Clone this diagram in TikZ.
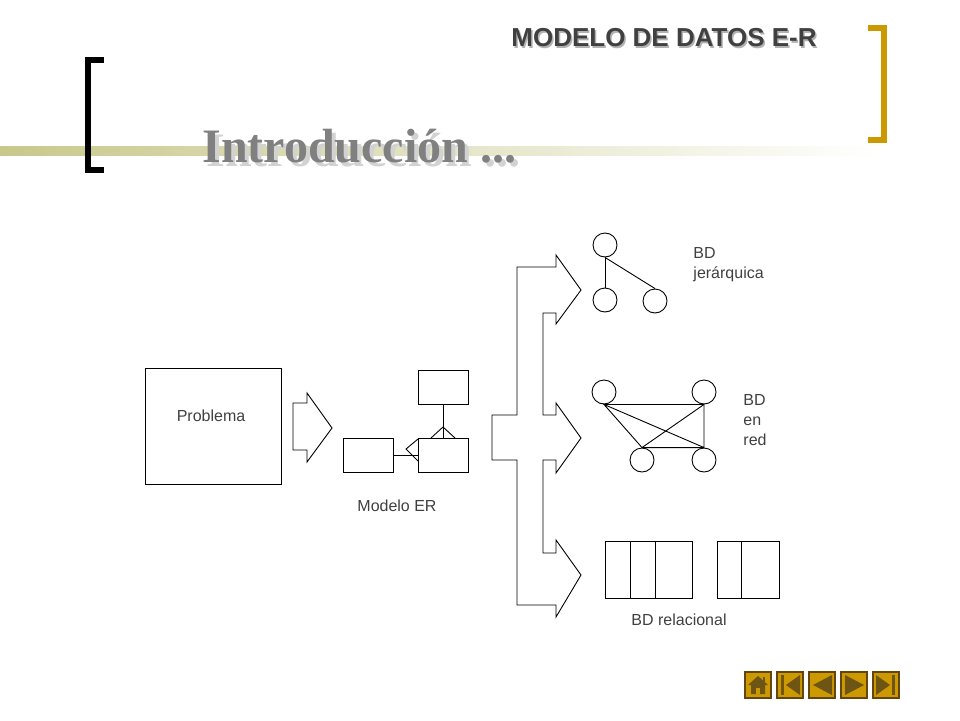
\documentclass[tikz,border=0pt]{standalone}
\usepackage{fontspec}
\setmainfont{Liberation Sans}
\newfontfamily\serifbold{Liberation Serif}
\usetikzlibrary{positioning}
\definecolor{gold}{RGB}{204,153,0}
\definecolor{navedge}{RGB}{100,70,10}
\definecolor{navicon}{RGB}{110,85,20}
\definecolor{khaki}{RGB}{200,200,140}
\definecolor{lbl}{RGB}{64,64,64}

\begin{document}
\begin{tikzpicture}[x=1pt,y=-1pt,line width=0.9pt]
\tikzset{
  lbl/.style={font=\fontsize{16}{20}\selectfont,text=lbl,align=left,inner sep=0pt},
  ent/.style={draw,minimum width=50pt,minimum height=34pt,inner sep=0pt},
  rec/.style={draw,circle,minimum size=24pt,inner sep=0pt},
  navbtn/.style={draw=navedge,fill=gold,line width=1.5pt,minimum size=26pt,inner sep=0pt}
}
\useasboundingbox (0,0) rectangle (960,720);
% header
\shade[left color=khaki,right color=white] (0,146) rectangle (880,155);
\draw[line width=6pt] (104,60) -- (88,60) -- (88,170) -- (104,170);
\draw[gold,line width=6pt] (868,28) -- (884,28) -- (884,140) -- (868,140);
\node[text=gray!60,font=\bfseries\fontsize{26}{28}\selectfont] at (665.5,39.5) {MODELO DE DATOS E-R};
\node (title) [text=black!75,font=\bfseries\fontsize{26}{28}\selectfont] at (664,38) {MODELO DE DATOS E-R};
\node[text=gray!35,font=\serifbold\bfseries\fontsize{48}{50}\selectfont,anchor=west,inner sep=0pt] at (206,150) {Introducción ...};
\node (intro) [text=black!50,font=\serifbold\bfseries\fontsize{48}{50}\selectfont,anchor=west,inner sep=0pt] at (202,146) {Introducción ...};
% problem
\node (prob) [draw,minimum width=136pt,minimum height=116pt,inner sep=0pt] at (213,426) {};
\node (probtxt) [lbl] at (211,416) {Problema};
\draw (293,403) -- (307,403) -- (307,393) -- (332,428) -- (307,462) -- (307,450) -- (293,450) -- cycle;
% ER model
\node (e1) [ent] at (368,455) {};
\node (e2) [ent] at (443,455) {};
\node (e3) [ent] at (443,387) {};
\draw (e3.south) -- (e2.north);
\draw (431,438) -- (443,427) -- (455,438);
\draw (e1.east) -- (e2.west);
\draw (418,439) -- (406,449) -- (418,461);
\node (ertxt) [lbl] at (397,506) {Modelo ER};
% branching arrow
\draw (492,415) -- (517,415) -- (517,267) -- (556,267) -- (556,255) -- (581,290) -- (556,324)
  -- (556,313) -- (543,313) -- (543,415) -- (556,415) -- (556,403) -- (581,438) -- (556,473)
  -- (556,460) -- (543,460) -- (543,553) -- (556,553) -- (556,540) -- (581,575) -- (556,617)
  -- (556,605) -- (517,605) -- (517,460) -- (492,460) -- cycle;
% hierarchical
\node (h0) [rec] at (605,245) {};
\node (h1) [rec] at (605,300) {};
\node (h2) [rec] at (655,301) {};
\draw (h0.south) -- (h1.north);
\draw (h0.south) -- (h2.north);
\node (hietxt) [lbl,anchor=north west] at (693,247) {BD\\jerárquica};
% network
\node (n1) [rec] at (604,392) {};
\node (n2) [rec] at (704,392) {};
\node (n3) [rec] at (642,460) {};
\node (n4) [rec] at (704,460) {};
\draw (n1.south) -- (n2.south) -- (n4.north) -- (n3.north) -- (n1.south) -- (n4.north);
\draw (n2.south) -- (n3.north);
\node (redtxt) [lbl,anchor=north west] at (743,394) {BD\\en\\red};
% relational
\node (t1) [draw,minimum width=87pt,minimum height=57pt,inner sep=0pt] at (648.5,569.5) {};
\draw (630,541) -- (630,598) (655,541) -- (655,598);
\node (t2) [draw,minimum width=62pt,minimum height=57pt,inner sep=0pt] at (748,569.5) {};
\draw (741,541) -- (741,598);
\node (reltxt) [lbl] at (679,620) {BD relacional};
% navigation
\foreach \i/\nm in {0/home,1/first,2/prev,3/next,4/last}
  \node (\nm) [navbtn] at (758+\i*32,685) {};
\fill[navicon] (748,685) -- (758,676) -- (768,685) -- (765,685) -- (765,694) -- (751,694) -- (751,685) -- cycle;
\fill[navicon] (763,677) rectangle (765,682);
\fill[gold] (756,688) rectangle (760,694);
\fill[navicon] (781,675) rectangle (784,695);
\fill[navicon] (800,675) -- (786,685) -- (800,695) -- cycle;
\fill[navicon] (832,675) -- (813,685) -- (832,695) -- cycle;
\fill[navicon] (845,675) -- (864,685) -- (845,695) -- cycle;
\fill[navicon] (876,675) -- (890,685) -- (876,695) -- cycle;
\fill[navicon] (892,675) rectangle (895,695);
\end{tikzpicture}
\end{document}
